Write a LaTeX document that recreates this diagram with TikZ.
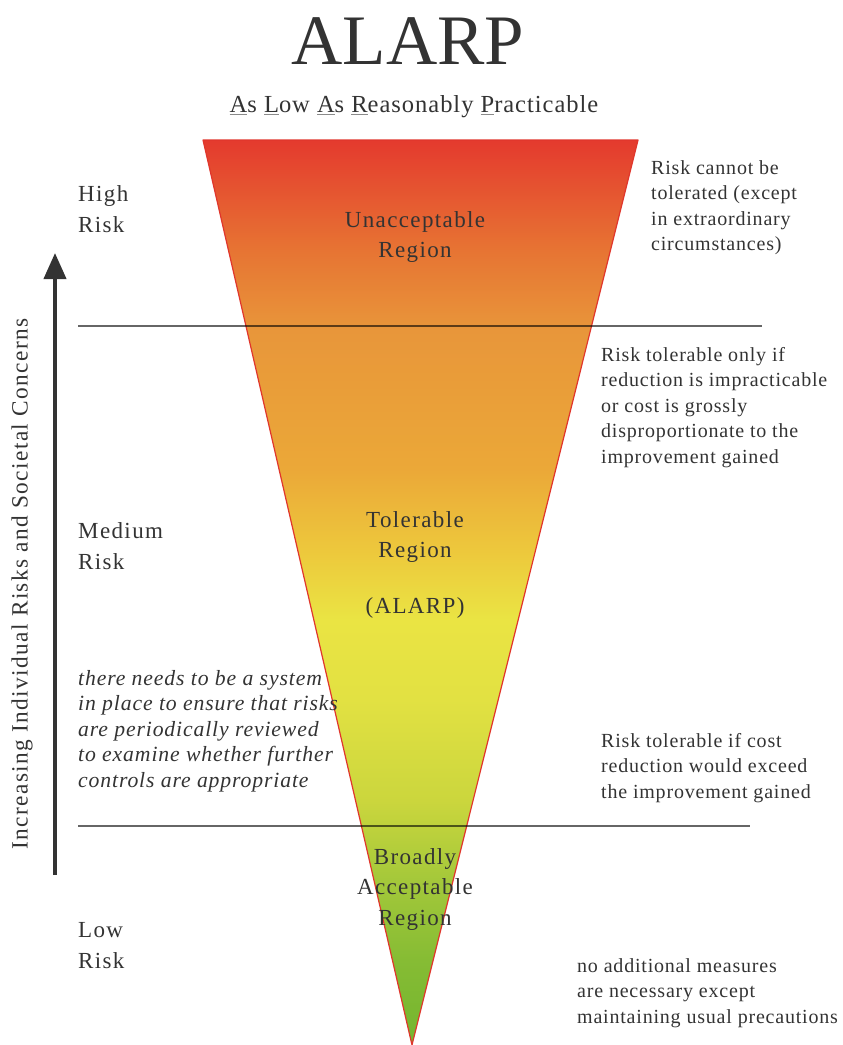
\documentclass[tikz,border=0pt]{standalone}
\usepackage{fontspec}
\setmainfont{Liberation Serif}
\newfontfamily\bodyfont[LetterSpace=4]{Liberation Serif}
\newfontfamily\labelfont[LetterSpace=6]{Liberation Serif}
\usetikzlibrary{arrows.meta}
\definecolor{textdark}{HTML}{333333}
\definecolor{ulgray}{HTML}{8A8A8A}
\definecolor{edgered}{HTML}{E0362C}
\definecolor{gA}{HTML}{74B52F}
\definecolor{gB}{HTML}{86BC34}
\definecolor{gC}{HTML}{A4C83A}
\definecolor{gD}{HTML}{CBD63D}
\definecolor{yA}{HTML}{E2E142}
\definecolor{yB}{HTML}{EAE443}
\definecolor{oA}{HTML}{EDC83C}
\definecolor{oB}{HTML}{EBA838}
\definecolor{oC}{HTML}{E8963A}
\definecolor{rA}{HTML}{E77433}
\definecolor{rB}{HTML}{E43A2E}
\pgfdeclareverticalshading{alarpshade}{100bp}{color(0bp)=(gA); color(25bp)=(gA); color(29.7bp)=(gB); color(34.1bp)=(gC); color(38.5bp)=(gD); color(44.1bp)=(yA); color(48.5bp)=(yB); color(52.3bp)=(oA); color(56.8bp)=(oB); color(64.5bp)=(oC); color(68.9bp)=(rA); color(75bp)=(rB); color(100bp)=(rB)}
\newcommand{\ulinit}[1]{{\color{ulgray}\underline{{\color{textdark}#1}}}}
\tikzset{
  >/.tip={Triangle[width=22pt,length=26pt]},
  region/.style={align=center, inner sep=0pt, text=textdark, font=\labelfont\fontsize{23}{30.5}\selectfont},
  risklevel/.style={align=left, anchor=north west, inner sep=0pt, text=textdark, font=\labelfont\fontsize{23}{31}\selectfont},
  remark/.style={align=left, anchor=north west, inner sep=0pt, text=textdark, font=\bodyfont\fontsize{20}{25.5}\selectfont},
  divider/.style={draw=black, draw opacity=0.6, line width=2.5pt}
}

\begin{document}
\begin{tikzpicture}[x=1pt, y=-1pt]
\useasboundingbox (0,0) rectangle (843,1045);

\coordinate (topleft) at (203,140);
\coordinate (topright) at (638,140);
\coordinate (apex) at (412,1045);
\shade[shading=alarpshade] (topleft) -- (topright) -- (apex) -- cycle;
\draw[edgered, line width=1.2pt, line join=round] (topleft) -- (topright) -- (apex) -- cycle;

\coordinate (upperL) at (78,326);
\coordinate (upperR) at (762,326);
\coordinate (lowerL) at (78,826);
\coordinate (lowerR) at (750,826);
\draw[divider] (upperL) -- (upperR);
\draw[divider] (lowerL) -- (lowerR);

\node (title) at (408,41) [text=textdark, inner sep=0pt] {\fontsize{71}{71}\selectfont ALARP};
\node (subtitle) at (414,107) [text=textdark, inner sep=0pt] {\bodyfont\fontsize{24.5}{28}\selectfont \ulinit{A}s \ulinit{L}ow \ulinit{A}s \ulinit{R}easonably \ulinit{P}racticable};

\node (unacc) at (415,237) [region] {Unacceptable\\Region};
\node (toler) at (415,537) [region] {Tolerable\\Region};
\node (alarp) at (415,608) [region] {(ALARP)};
\node (broad) at (415,889) [region] {Broadly\\Acceptable\\Region};

\node (high) at (78,185) [risklevel] {High\\Risk};
\node (medium) at (78,522) [risklevel] {Medium\\Risk};
\node (low) at (78,922) [risklevel] {Low\\Risk};

\node (cannot) at (651,160) [remark] {Risk cannot be\\tolerated (except\\in extraordinary\\circumstances)};
\node (onlyif) at (601,347) [remark] {Risk tolerable only if\\reduction is impracticable\\or cost is grossly\\disproportionate to the\\improvement gained};
\node (exceed) at (601,733) [remark] {Risk tolerable if cost\\reduction would exceed\\the improvement gained};
\node (nomore) at (577,958) [remark] {no additional measures\\are necessary except\\maintaining usual precautions};
\node (review) at (78,670) [remark, font=\bodyfont\itshape\fontsize{21.7}{25.5}\selectfont] {there needs to be a system\\in place to ensure that risks\\are periodically reviewed\\to examine whether further\\controls are appropriate};

\coordinate (arrowfoot) at (55,875);
\coordinate (arrowtip) at (55,253);
\draw[->, textdark, line width=4pt] (arrowfoot) -- (arrowtip);
\node (concern) at (22,584) [rotate=90, inner sep=0pt, text=textdark, font=\labelfont\fontsize{23.3}{27}\selectfont] {Increasing Individual Risks and Societal Concerns};
\end{tikzpicture}
\end{document}
